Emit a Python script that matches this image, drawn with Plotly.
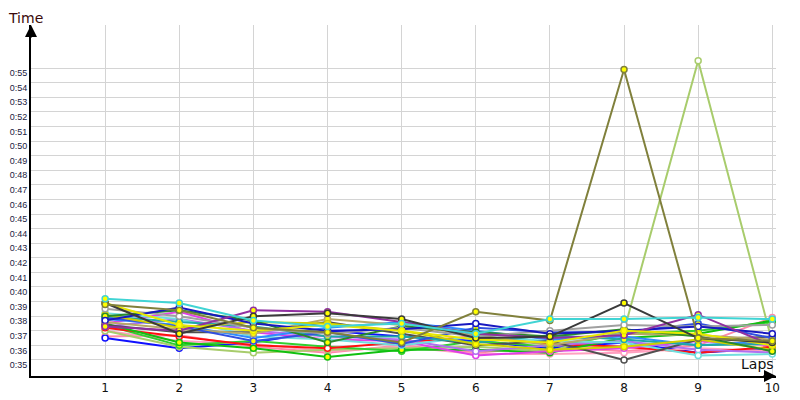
"""Lap times per driver: laps 1..10, time in seconds shown as m:ss."""

import plotly.graph_objects as go

LAPS = [1, 2, 3, 4, 5, 6, 7, 8, 9, 10]

# lap times, seconds
CYAN = [39.2, 38.9, 37.7, 37.3, 37.5, 36.8, 37.8, 37.8, 37.9, 37.8]
DARK_GRAY = [38.9, 36.8, 38.0, 38.2, 37.8, 36.5, 36.6, 38.9, 36.5, 36.2]
YELLOW = [38.9, 37.4, 37.0, 37.4, 37.0, 36.4, 36.2, 37.0, 36.8, 36.0]
OLIVE = [38.8, 38.4, 37.2, 36.9, 36.2, 38.3, 37.7, 54.9, 36.5, 36.3]
YELLOWGREEN = [37.0, 35.9, 35.5, 35.7, 35.8, 35.9, 35.6, 37.0, 55.5, 36.2]
PURPLE = [37.3, 37.0, 38.4, 38.3, 37.6, 36.8, 36.5, 36.7, 38.1, 36.0]
MAGENTA = [37.5, 38.3, 36.9, 36.4, 36.3, 35.3, 35.6, 35.8, 36.3, 36.0]
GREEN = [37.5, 36.2, 35.8, 35.2, 35.7, 35.7, 35.5, 36.5, 36.8, 37.7]
RED = [37.2, 36.6, 36.0, 35.8, 36.2, 36.6, 36.1, 35.9, 35.5, 35.9]
PINK = [36.6, 36.7, 35.9, 35.5, 36.0, 35.5, 35.9, 35.6, 36.0, 37.9]
BLUE = [36.5, 35.8, 36.2, 37.0, 36.6, 36.3, 35.8, 36.2, 35.5, 35.8]
NAVY = [37.7, 38.6, 37.5, 37.0, 37.1, 37.5, 36.8, 37.0, 37.3, 36.8]
GRAY = [38.5, 38.0, 37.2, 36.8, 37.2, 36.6, 37.0, 37.4, 37.3, 37.4]
DARK_GREEN = [38.0, 38.4, 37.7, 36.2, 37.3, 36.9, 36.6, 37.1, 36.6, 35.6]
LIGHT_BLUE = [37.8, 37.4, 36.5, 37.2, 37.6, 37.0, 36.4, 36.6, 36.0, 36.3]
PALE_CYAN = [38.2, 37.8, 36.6, 36.4, 36.0, 36.6, 36.3, 36.2, 35.3, 35.4]
KHAKI_YELLOW = [38.1, 37.2, 37.6, 37.5, 37.0, 36.1, 35.7, 35.9, 36.4, 35.7]
SLATE = [37.4, 36.9, 36.9, 37.6, 36.8, 36.0, 36.3, 35.0, 36.4, 36.6]
VIOLET = [37.3, 37.8, 37.0, 36.6, 36.4, 35.6, 36.0, 36.3, 35.7, 35.5]
KHAKI = [37.6, 37.1, 36.8, 37.8, 37.4, 36.7, 36.0, 36.8, 36.7, 36.4]
TEAL = [38.0, 37.6, 37.3, 36.6, 36.6, 36.2, 36.7, 36.4, 36.0, 36.1]
ROSE = [37.0, 36.3, 36.1, 35.6, 35.9, 35.4, 35.4, 35.5, 35.8, 35.6]
BLUE2 = [37.9, 37.3, 36.3, 36.9, 36.1, 37.2, 36.9, 36.9, 37.5, 36.5]
LIME = [37.4, 36.0, 36.3, 35.9, 35.6, 36.3, 35.9, 36.8, 37.0, 37.6]

Y_TICKS = [35, 36, 37, 38, 39, 40, 41, 42, 43, 44, 45,
           46, 47, 48, 49, 50, 51, 52, 53, 54, 55]
Y_TICK_LABELS = ["0:35", "0:36", "0:37", "0:38", "0:39", "0:40", "0:41",
                 "0:42", "0:43", "0:44", "0:45", "0:46", "0:47", "0:48",
                 "0:49", "0:50", "0:51", "0:52", "0:53", "0:54", "0:55"]

# (values, line colour, marker fill)
SERIES = [
    (PINK, "#ff88a8", "white"),
    (BLUE, "#1010ff", "white"),
    (ROSE, "#ffa0c0", "white"),
    (YELLOWGREEN, "#a8cc6c", "white"),
    (LIME, "#30d030", "yellow"),
    (RED, "#ff1010", "white"),
    (GREEN, "#10c010", "yellow"),
    (MAGENTA, "#e040e8", "white"),
    (VIOLET, "#b070f0", "white"),
    (PALE_CYAN, "#70dede", "white"),
    (SLATE, "#505050", "white"),
    (LIGHT_BLUE, "#2f8cff", "white"),
    (TEAL, "#20a8a8", "yellow"),
    (KHAKI, "#b8a868", "yellow"),
    (BLUE2, "#3050e0", "yellow"),
    (KHAKI_YELLOW, "#d0d000", "yellow"),
    (DARK_GREEN, "#2a8a2a", "yellow"),
    (GRAY, "#a0a0a0", "white"),
    (NAVY, "#1818c0", "white"),
    (PURPLE, "#9030a0", "yellow"),
    (YELLOW, "#e8e800", "yellow"),
    (DARK_GRAY, "#3a3a3a", "yellow"),
    (OLIVE, "#80803c", "yellow"),
    (CYAN, "#40d4d4", "yellow"),
]

fig = go.Figure()

for vals, col, fill in SERIES:
    fig.add_trace(
        go.Scatter(
            x=LAPS,
            y=vals,
            mode="lines+markers",
            line=dict(color=col, width=2),
            marker=dict(size=6, color=fill, line=dict(color=col, width=1.5)),
            showlegend=False,
            hoverinfo="skip",
        )
    )

fig.update_xaxes(
    range=[0, 10.05],
    tickvals=LAPS,
    ticktext=[str(v) for v in LAPS],
    showgrid=True,
    gridcolor="#d4d4d4",
    gridwidth=1,
    zeroline=False,
    showline=True,
    linecolor="black",
    linewidth=2,
    ticks="",
    tickfont=dict(family="DejaVu Sans", size=12, color="#111"),
    ticklabelstandoff=0,
    automargin=False,
)
fig.update_yaxes(
    range=[33.9, 57.95],
    tickvals=Y_TICKS,
    ticktext=Y_TICK_LABELS,
    showgrid=True,
    gridcolor="#d4d4d4",
    gridwidth=1,
    zeroline=False,
    showline=True,
    linecolor="black",
    linewidth=2,
    ticks="",
    tickfont=dict(family="Liberation Sans", size=9, color="#1a1a40"),
    ticklabelshift=5,
    ticklabelstandoff=0,
    automargin=False,
)

# arrow heads on both axes
fig.add_annotation(
    x=0, y=1.0, xref="paper", yref="paper",
    ax=0, ay=14, axref="pixel", ayref="pixel",
    showarrow=True, arrowhead=2, arrowsize=1.2, arrowwidth=2,
    arrowcolor="black", text="",
)
fig.add_annotation(
    x=1.0, y=0, xref="paper", yref="paper",
    ax=-14, ay=0, axref="pixel", ayref="pixel",
    showarrow=True, arrowhead=2, arrowsize=1.2, arrowwidth=2,
    arrowcolor="black", text="",
)

fig.add_annotation(
    x=0, y=1.0, xref="paper", yref="paper",
    xanchor="center", yanchor="bottom", xshift=-6, yshift=-3,
    text="Time", showarrow=False,
    font=dict(family="DejaVu Sans", size=14, color="#3a0a0a"),
)
fig.add_annotation(
    x=1.0, y=0.0, xref="paper", yref="paper",
    xanchor="right", yanchor="bottom", yshift=2,
    text="Laps", showarrow=False,
    font=dict(family="DejaVu Sans", size=14, color="#111"),
)

# page body has an 8px margin, so the margins are shifted to compensate
fig.update_layout(
    width=800,
    height=400,
    template="plotly_white",
    plot_bgcolor="white",
    paper_bgcolor="white",
    margin=dict(l=23, r=32, t=17, b=32),
    hovermode=False,
)

fig.write_html("out.html")
